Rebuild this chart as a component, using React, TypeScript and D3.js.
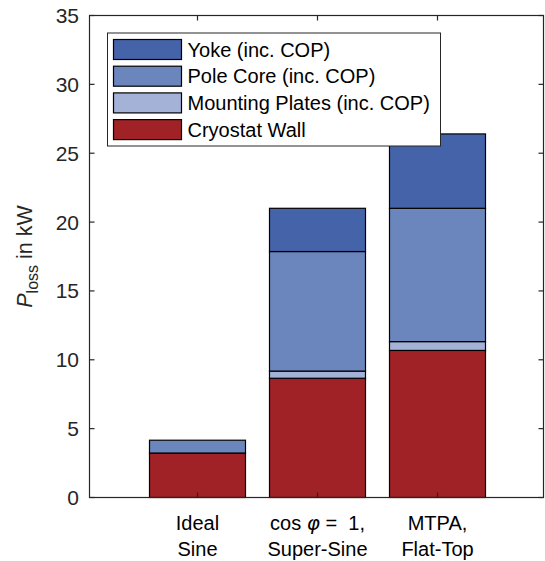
import React from "react";
import * as d3 from "d3";

const categories = ["Ideal Sine", "Super-Sine", "Flat-Top"];
const seriesNames = ["Cryostat Wall", "Mounting Plates (inc. COP)", "Pole Core (inc. COP)", "Yoke (inc. COP)"];
const cryostat = [3.23, 8.66, 10.68];
const mounting = [0.0, 0.52, 0.64];
const poleCore = [0.93, 8.68, 9.68];
const yoke = [0.0, 3.14, 5.4];
const yTicks = [0, 5, 10, 15, 20, 25, 30, 35];
const legendOrder = ["Yoke (inc. COP)", "Pole Core (inc. COP)", "Mounting Plates (inc. COP)", "Cryostat Wall"];
const colors: Record<string, string> = {
  "Cryostat Wall": "#a02226",
  "Mounting Plates (inc. COP)": "#a4b2d7",
  "Pole Core (inc. COP)": "#6a86bd",
  "Yoke (inc. COP)": "#4563a9",
};

const W = 545, H = 561;
const L = 89.5, R = 543.5, T = 15.5, B = 497.5;
const FONT = "'Liberation Sans', Arial, Helvetica, sans-serif";
const AX = "#262626";

export default function App() {
  const x = d3.scaleBand<string>().domain(categories).range([137.5, 497.5]).paddingInner(0.2).paddingOuter(0.1);
  const y = d3.scaleLinear().domain([0, 35]).range([B, T]);
  const table = categories.map((c, i) => ({
    cat: c,
    "Cryostat Wall": cryostat[i],
    "Mounting Plates (inc. COP)": mounting[i],
    "Pole Core (inc. COP)": poleCore[i],
    "Yoke (inc. COP)": yoke[i],
  }));
  const stacked = d3.stack<any>().keys(seriesNames)(table);
  const cx = (i: number) => x(categories[i])! + x.bandwidth() / 2;

  const lx = 107.5, ly = 33, lw = 333, lh = 113;
  return (
    <svg width={W} height={H} style={{ position: "absolute", left: 0, top: 0, background: "#fff" }} fontFamily={FONT}>
      <rect x={0} y={0} width={W} height={H} fill="#fff" />
      {stacked.map((s) => (
        <g key={s.key}>
          {s.map((d, i) => {
            const h = y(d[0]) - y(d[1]);
            if (h <= 0.01) return null;
            return (
              <rect key={i} x={x(categories[i])!} y={y(d[1])} width={x.bandwidth()} height={h}
                fill={colors[s.key]} stroke="#000" strokeWidth={1.2} />
            );
          })}
        </g>
      ))}
      {/* axes box */}
      <rect x={L} y={T} width={R - L} height={B - T} fill="none" stroke={AX} strokeWidth={1.2} />
      {yTicks.map((t) => (
        <g key={t}>
          <line x1={L} x2={L + 5} y1={y(t)} y2={y(t)} stroke={AX} strokeWidth={1.2} />
          <line x1={R} x2={R - 5} y1={y(t)} y2={y(t)} stroke={AX} strokeWidth={1.2} />
          <text x={79} y={y(t)} dy="0.36em" textAnchor="end" fontSize={21} fill={AX}>{t}</text>
        </g>
      ))}
      {categories.map((c, i) => (
        <g key={c}>
          <line x1={cx(i)} x2={cx(i)} y1={B} y2={B - 5} stroke={AX} strokeWidth={1.2} />
          <line x1={cx(i)} x2={cx(i)} y1={T} y2={T + 5} stroke={AX} strokeWidth={1.2} />
        </g>
      ))}
      {/* x labels */}
      <g fontSize={20} fill="#000" textAnchor="middle">
        <text x={cx(0)} y={530}>Ideal</text>
        <text x={cx(0)} y={556}>Sine</text>
        <text x={cx(1)} y={530}>
          {"cos\u00a0"}<tspan fontStyle="italic" fontFamily="'DejaVu Sans', sans-serif">φ</tspan>{"\u00a0=\u00a0\u00a01,"}
        </text>
        <text x={cx(1)} y={556}>Super-Sine</text>
        <text x={cx(2)} y={530}>MTPA,</text>
        <text x={cx(2)} y={556}>Flat-Top</text>
      </g>
      {/* y label */}
      <text transform={`translate(32,${(T + B) / 2}) rotate(-90)`} textAnchor="middle" fontSize={21.5} fill={AX}>
        <tspan fontStyle="italic">P</tspan>
        <tspan fontSize={16} dy={6}>loss</tspan>
        <tspan dy={-6}>{"\u00a0in kW"}</tspan>
      </text>
      {/* legend */}
      <rect x={lx} y={ly} width={lw} height={lh} fill="#fff" stroke={AX} strokeWidth={1} />
      {legendOrder.map((k, i) => {
        const ry = 39.5 + i * 26.7;
        return (
          <g key={k}>
            <rect x={113.5} y={ry} width={68} height={20} fill={colors[k]} stroke="#000" strokeWidth={1.2} />
            <text x={187.5} y={ry + 17} fontSize={20} fill="#000">{k}</text>
          </g>
        );
      })}
    </svg>
  );
}
